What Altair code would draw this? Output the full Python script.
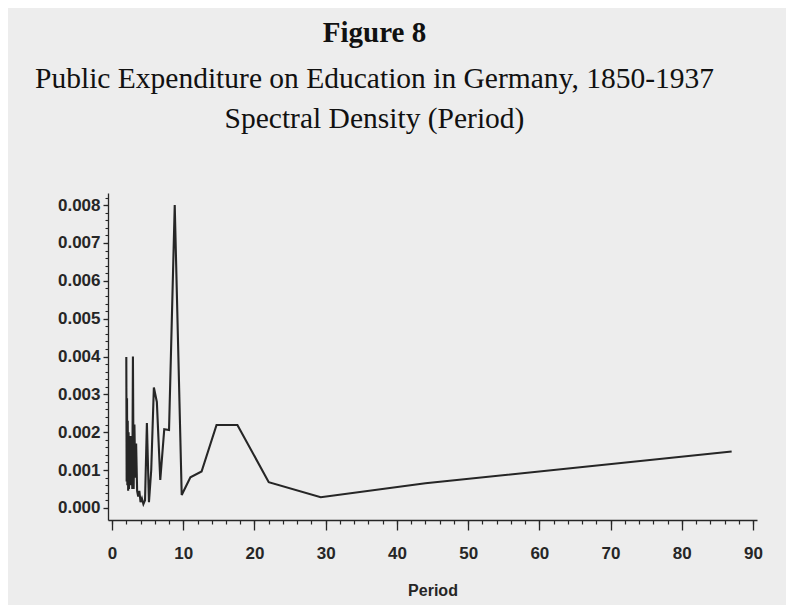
import altair as alt
import pandas as pd

# ---- data ----
period = [87.0, 44.0, 29.3, 22.0, 17.6, 14.67, 12.57, 11.0, 9.78, 8.8, 8.0, 7.33,
          6.77, 6.29, 5.87, 5.5, 5.18, 4.89, 4.63, 4.4, 4.19, 4.0, 3.83, 3.67,
          3.52, 3.38, 3.26, 3.14, 3.03, 2.93, 2.84, 2.75, 2.67, 2.59, 2.51, 2.44,
          2.38, 2.32, 2.26, 2.2, 2.15, 2.1, 2.05, 2.0]
density = [0.00149, 0.00065, 0.00028, 0.00068, 0.00219, 0.00219, 0.00096, 0.00081,
           0.00034, 0.00800, 0.00206, 0.00208, 0.00074, 0.00280, 0.00318, 0.00100,
           0.00015, 0.00224, 0.00020, 0.00010, 0.00025, 0.00015, 0.00045, 0.00030,
           0.00045, 0.00170, 0.00080, 0.00220, 0.00050, 0.00400, 0.00050, 0.00140,
           0.00060, 0.00190, 0.00080, 0.00180, 0.00050, 0.00200, 0.00045, 0.00230,
           0.00060, 0.00290, 0.00070, 0.00399]

x_major = [0, 10, 20, 30, 40, 50, 60, 70, 80, 90]
x_minor = [0, 2, 4, 6, 8, 10, 12, 14, 16, 18, 20, 22, 24, 26, 28, 30, 32, 34, 36, 38,
           40, 42, 44, 46, 48, 50, 52, 54, 56, 58, 60, 62, 64, 66, 68, 70, 72, 74,
           76, 78, 80, 82, 84, 86, 88, 90]
y_major = [0.0, 0.001, 0.002, 0.003, 0.004, 0.005, 0.006, 0.007, 0.008]
y_minor = [0.0, 0.0002, 0.0004, 0.0006, 0.0008, 0.001, 0.0012, 0.0014, 0.0016, 0.0018,
           0.002, 0.0022, 0.0024, 0.0026, 0.0028, 0.003, 0.0032, 0.0034, 0.0036, 0.0038,
           0.004, 0.0042, 0.0044, 0.0046, 0.0048, 0.005, 0.0052, 0.0054, 0.0056, 0.0058,
           0.006, 0.0062, 0.0064, 0.0066, 0.0068, 0.007, 0.0072, 0.0074, 0.0076, 0.0078,
           0.008, 0.0082]

title_text = "Figure 8"
subtitle_lines = ["Public Expenditure on Education in Germany, 1850-1937",
                  "Spectral Density (Period)"]

df = pd.DataFrame({"period": period, "density": density})

INK = "#262626"
SANS = "Liberation Sans"
SERIF = "Liberation Serif"

xscale = alt.Scale(domain=[-0.57, 90.56], nice=False, zero=False)
yscale = alt.Scale(domain=[-0.00032, 0.00832], nice=False, zero=False)

main = alt.Chart(df).mark_line(color=INK, strokeWidth=2.1).encode(
    x=alt.X("period:Q", scale=xscale,
            axis=alt.Axis(orient="bottom", values=x_major, format="d", tickSize=10,
                          labelPadding=15, labelFont=SANS, labelFontSize=17,
                          labelFontWeight="bold", labelColor=INK, domainColor=INK,
                          domainWidth=1.3, tickColor=INK, tickWidth=1.3, grid=False,
                          title="Period", titleFont=SANS, titleFontSize=16,
                          titleFontWeight="bold", titleColor=INK, titlePadding=21)),
    y=alt.Y("density:Q", scale=yscale,
            axis=alt.Axis(orient="left", values=y_major, format=".3f", tickSize=5,
                          labelPadding=3, labelFont=SANS, labelFontSize=17,
                          labelFontWeight="bold", labelColor=INK, domainColor=INK,
                          domainWidth=1.3, tickColor=INK, tickWidth=1.3, grid=False,
                          title=None)),
    order=alt.Order("period:Q"),
)

minor = alt.Chart(df).mark_line(strokeOpacity=0).encode(
    x=alt.X("period:Q", scale=xscale,
            axis=alt.Axis(orient="bottom", values=x_minor, labels=False, tickSize=4,
                          tickColor=INK, tickWidth=1.2, domain=False, grid=False,
                          title=None)),
    y=alt.Y("density:Q", scale=yscale,
            axis=alt.Axis(orient="left", values=y_minor, labels=False, tickSize=3,
                          tickColor=INK, tickWidth=1.1, domain=False, grid=False,
                          title=None)),
    order=alt.Order("period:Q"),
)

chart = alt.layer(main, minor).resolve_axis(
    x="independent", y="independent"
).properties(
    width=649,
    height=327,
    background="#ededed",
    padding={"left": 100, "top": 185, "right": 29, "bottom": 85},
    autosize=alt.AutoSizeParams(type="none"),
    title=alt.TitleParams(
        text=title_text, subtitle=subtitle_lines, anchor="middle", dx=-58,
        font=SERIF, fontSize=29, fontWeight="bold", color="#111111",
        subtitleFont=SERIF, subtitleFontSize=29.5, subtitleColor="#111111",
        subtitleLineHeight=40, subtitlePadding=17, offset=60,
    ),
).configure_view(stroke=None)

chart.save("out.html", embed_options={"renderer": "svg", "actions": False})
